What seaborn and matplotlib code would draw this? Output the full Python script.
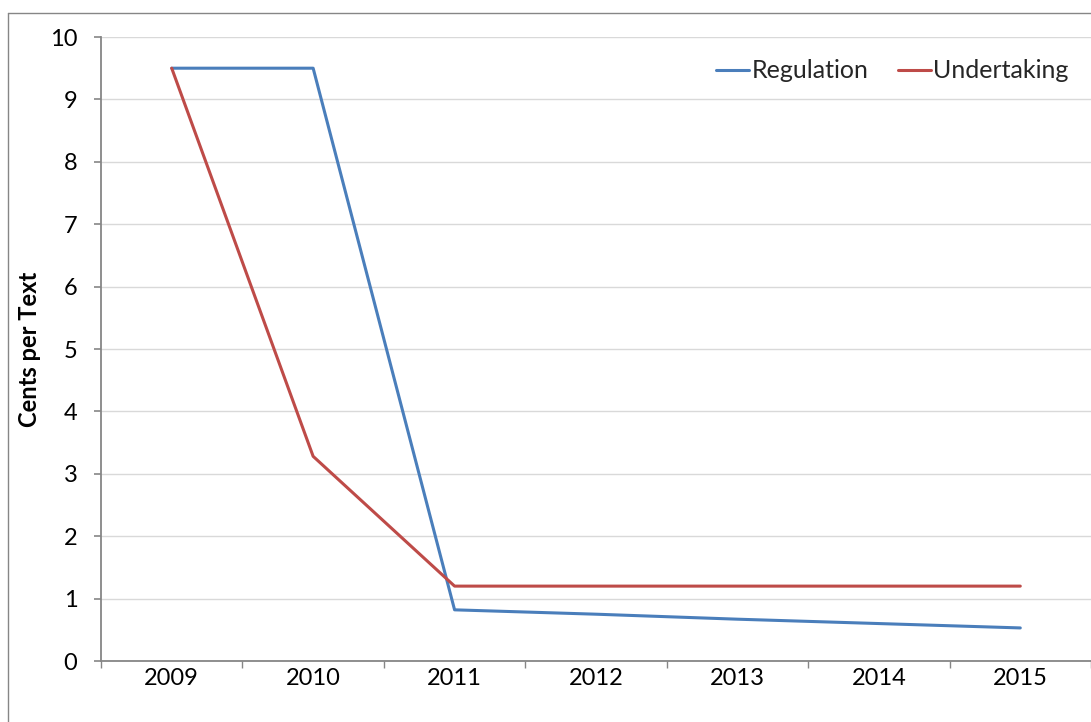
import matplotlib
matplotlib.use("Agg")
import matplotlib.pyplot as plt
from matplotlib.lines import Line2D
import seaborn as sns
import pandas as pd

years = ["2009", "2010", "2011", "2012", "2013", "2014", "2015"]
regulation = [9.5, 9.5, 0.82, 0.75, 0.67, 0.60, 0.53]
undertaking = [9.5, 3.28, 1.2, 1.2, 1.2, 1.2, 1.2]
series_names = ["Regulation", "Undertaking"]
colors = ["#4A7EBB", "#BE4B48"]
y_ticks = [0, 1, 2, 3, 4, 5, 6, 7, 8, 9, 10]

df = pd.DataFrame({
    "Year": years * 2,
    "Value": regulation + undertaking,
    "Series": [series_names[0]] * len(years) + [series_names[1]] * len(years),
})

sns.set_theme(style="white")
plt.rcParams["font.family"] = ["Lato", "DejaVu Sans"]

fig = plt.figure(figsize=(10.91, 7.22), dpi=100)
ax = fig.add_axes([101 / 1091, 1 - 661 / 722, 1 - 101 / 1091, (661 - 37) / 722])

sns.lineplot(data=df, x="Year", y="Value", hue="Series", palette=colors,
             linewidth=2.2, ax=ax, legend=False, sort=False)

ax.set_xlim(-0.5, len(years) - 0.5)
ax.set_ylim(0, 10)
ax.set_yticks(y_ticks)
ax.set_yticklabels([str(t) for t in y_ticks])
ax.set_xticks(range(len(years)))
ax.set_xticklabels(years)
ax.set_xticks([i - 0.5 for i in range(len(years) + 1)], minor=True)

grey = "#868686"
ax.yaxis.grid(True, color="#D9D9D9", linewidth=1.0)
ax.xaxis.grid(False)
ax.set_axisbelow(True)
for s in ["top", "right"]:
    ax.spines[s].set_visible(False)
for s in ["left", "bottom"]:
    ax.spines[s].set_color(grey)
    ax.spines[s].set_linewidth(1.3)

ax.tick_params(axis="y", which="major", left=True, length=5, width=1.2, color=grey,
               pad=12, labelsize=17, labelcolor="black")
ax.tick_params(axis="x", which="major", bottom=True, length=0, pad=5, labelsize=17,
               labelcolor="black")
ax.tick_params(axis="x", which="minor", bottom=True, length=5, width=1.0, color=grey)

ax.set_xlabel("")
ax.set_ylabel("Cents per Text", fontsize=17, fontweight="bold", color="black")
ax.yaxis.set_label_coords((41 - 101) / 989, 0.5)

handles = [Line2D([0], [0], color=c, linewidth=2.2) for c in colors]
ax.legend(handles, series_names, loc="upper right", bbox_to_anchor=(1.0, 1.0),
          ncol=2, frameon=False, fontsize=18, handlelength=1.3, handletextpad=0.1,
          columnspacing=1.2)

# outer chart border
fig.add_artist(Line2D([8 / 1091, 8 / 1091], [0, 1 - 13 / 722], transform=fig.transFigure,
                      color="#868686", linewidth=1.0))
fig.add_artist(Line2D([8 / 1091, 1], [1 - 13 / 722, 1 - 13 / 722], transform=fig.transFigure,
                      color="#868686", linewidth=1.0))

fig.savefig("out.png", dpi=100)
